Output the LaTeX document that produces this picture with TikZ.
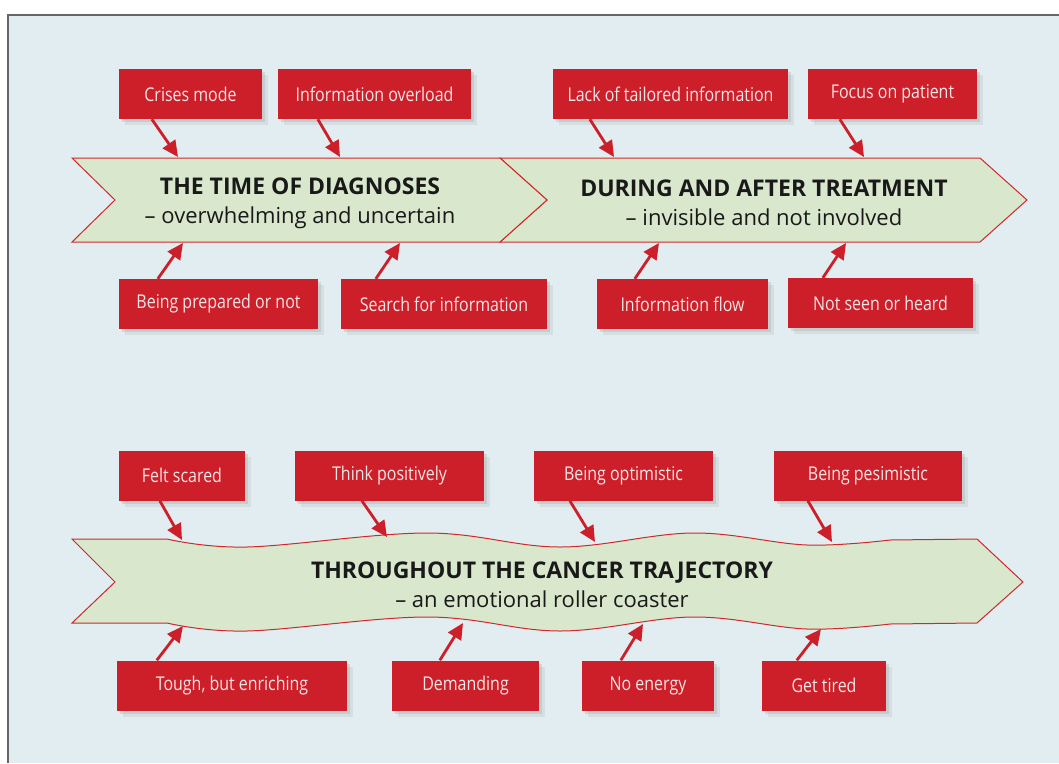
\documentclass[tikz,border=0pt]{standalone}
\usepackage{fontspec}
\setmainfont{Open Sans}
\newfontfamily\boxfont[FakeStretch=0.84]{Open Sans}
\usetikzlibrary{arrows.meta,shadows}
\definecolor{bgblue}{HTML}{E1EDF0}
\definecolor{boxred}{HTML}{CD1F29}
\definecolor{chevfill}{HTML}{D9E7CD}
\definecolor{chevline}{HTML}{D0282C}
\definecolor{boxtext}{HTML}{F4E6E6}
\tikzset{
  redbox/.style={fill=boxred, text=boxtext, minimum height=50pt, inner sep=0pt,
    font=\boxfont\fontsize{19}{22}\selectfont,
    drop shadow={shadow xshift=6pt, shadow yshift=-6pt, opacity=0.12},
    drop shadow={shadow xshift=3pt, shadow yshift=-3pt, opacity=0.2}},
  chev/.style={fill=chevfill, draw=chevline, line width=1pt, line join=miter},
  title/.style={align=center, text=black!90, font=\fontsize{22}{29}\selectfont},
  redarrow/.style={draw=boxred, line width=2.8pt, -{Triangle[length=16pt,width=15pt]}}
}
\begin{document}
\begin{tikzpicture}[x=1pt,y=-1pt]
  \useasboundingbox (0,0) rectangle (1059,763);
  \fill[white] (0,0) rectangle (1059,763);
  \fill[bgblue] (8,15) rectangle (1059,763);
  \draw[black!60, line width=1.2pt] (8,763) -- (8,15) -- (1059,15);
  % upper ribbon
  \draw[chev] (500,158) -- (980,158) -- (1027,200) -- (980,242) -- (500,242) -- (547,200) -- cycle;
  \draw[chev] (72,158) -- (500,158) -- (547,200) -- (500,242) -- (72,242) -- (115,200) -- cycle;
  \node[title] (diag) at (300,203) {{\fontsize{23}{29}\selectfont\bfseries THE TIME OF DIAGNOSES}\\– overwhelming and uncertain};
  \node[title] (treat) at (764,203) {{\fontsize{23}{29}\selectfont\bfseries DURING AND AFTER TREATMENT}\\– invisible and not involved};
  % lower ribbon, wavy
  \draw[chev] (72,539) -- plot[smooth, tension=0.6] coordinates {(167,539) (247,547) (427,533) (560,547) (693,533) (807,545) (890,540)}
    -- (977,539) -- (1023,582) -- (977,623)
    -- plot[smooth, tension=0.6] coordinates {(890,624) (807,629) (693,617) (560,631) (427,617) (247,631) (167,623)}
    -- (72,623) -- (115,582) -- cycle;
  \node[title] (traj) at (542,585) {{\fontsize{23}{29}\selectfont\bfseries THROUGHOUT THE CANCER TRAJECTORY}\\– an emotional roller coaster};
  % boxes: name/x/y/width/text
  \foreach \n/\x/\y/\w/\t in {crises/190.5/94/143/Crises mode, overload/374.5/94/193/Information overload,
      tailored/670.5/94/235/Lack of tailored information, focus/892.5/94/169/Focus on patient,
      prepared/218.5/304/199/Being prepared or not, search/444/304/206/Search for information,
      flow/682.5/304/171/Information flow, notseen/880.5/303/185/Not seen or heard,
      scared/182/475.5/126/Felt scared, positive/389.5/475.5/189/Think positively,
      optimistic/623.5/475.5/179/Being optimistic, pessimistic/868/475.5/188/Being pesimistic,
      tough/232/685.5/230/{Tough, but enriching}, demanding/465.5/685.5/147/Demanding,
      energy/648/685.5/132/No energy, tired/824/685.5/124/Get tired}{
    \node[redbox, minimum width=\w pt] (\n) at (\x,\y) {\t};
  }
  % arrow ends on the ribbons
  \foreach \c/\x/\y in {e1/178/157, e2/340/157, e3/614/157, e4/864/157,
      e5/183/243, e6/400/243, e7/659/243, e8/846/243,
      e9/182/540, e10/387/537, e11/595/542, e12/832/542,
      e13/183/626, e14/463/623, e15/643/624, e16/821/629}{
    \coordinate (\c) at (\x,\y);
  }
  \foreach \n/\d/\c in {crises/33/e1, overload/40/e2, tailored/37/e3, focus/32/e4,
      scared/41/e9, positive/67/e10, optimistic/36/e11, pessimistic/34/e12}{
    \draw[redarrow] ([xshift=\d pt]\n.south west) -- (\c);
  }
  \foreach \n/\d/\c in {prepared/39/e5, search/35/e6, flow/38/e7, notseen/35/e8,
      tough/40/e13, demanding/48/e14, energy/39/e15, tired/35/e16}{
    \draw[redarrow] ([xshift=\d pt]\n.north west) -- (\c);
  }
\end{tikzpicture}
\end{document}
